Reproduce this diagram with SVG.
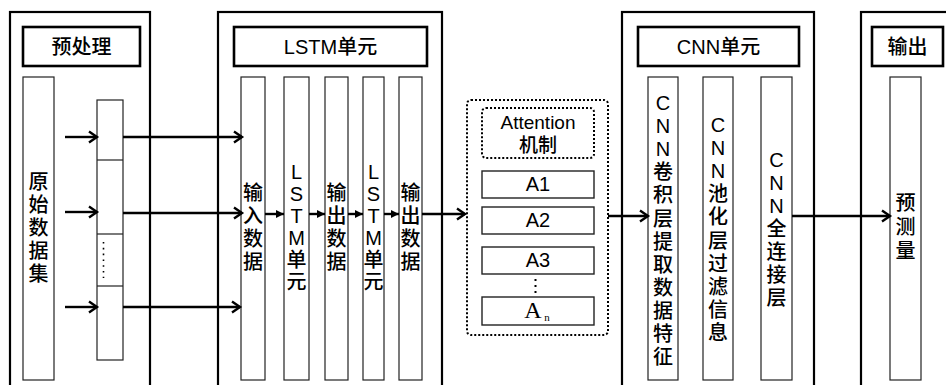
<svg xmlns="http://www.w3.org/2000/svg" width="946" height="385" viewBox="0 0 946 385">
<defs>
<style>
.outer{fill:none;stroke:#000;stroke-width:2.2}
.title{fill:#fff;stroke:#000;stroke-width:2.6}
.col{fill:#fff;stroke:#222;stroke-width:1.2}
.dotbox{fill:none;stroke:#000;stroke-width:2;stroke-dasharray:2,2}
.abox{fill:#fff;stroke:#222;stroke-width:1.4}
.t{font-family:"Liberation Sans","Noto Sans CJK SC",sans-serif;font-size:20px;font-weight:500;fill:#000;text-anchor:middle}
.tv{font-family:"Liberation Sans","Noto Sans CJK SC",sans-serif;font-size:20px;font-weight:500;fill:#000;text-anchor:middle}
.ln{stroke:#000;stroke-width:2.4;fill:none}
</style>
<marker id="chev" markerUnits="userSpaceOnUse" markerWidth="14" markerHeight="14" refX="11" refY="7" orient="auto">
<path d="M3,1.5 L11,7 L3,12.5" fill="none" stroke="#000" stroke-width="2.4"/>
</marker>
<marker id="tri" markerUnits="userSpaceOnUse" markerWidth="10" markerHeight="10" refX="9" refY="5" orient="auto">
<path d="M1,1 L9,5 L1,9 Z" fill="#000"/>
</marker>
</defs>

<g id="preprocess">
<rect class="outer" x="10" y="12" width="140" height="390"/>
<rect class="title" x="23" y="27" width="117" height="39"/>
<text class="t" x="81.5" y="54">预处理</text>
<rect class="col" x="23" y="77" width="31" height="303"/>
<text class="tv" x="38.5" y="189"><tspan x="38.5">原</tspan><tspan x="38.5" dy="23">始</tspan><tspan x="38.5" dy="23">数</tspan><tspan x="38.5" dy="23">据</tspan><tspan x="38.5" dy="23">集</tspan></text>
<rect class="col" x="97" y="100" width="26" height="260"/>
<line x1="97" y1="160" x2="123" y2="160" stroke="#222" stroke-width="1.2"/>
<line x1="97" y1="234" x2="123" y2="234" stroke="#222" stroke-width="1.2"/>
<line x1="97" y1="286" x2="123" y2="286" stroke="#222" stroke-width="1.2"/>
<line x1="103.5" y1="242" x2="103.5" y2="278" stroke="#000" stroke-width="1.6" stroke-dasharray="1.6,4.2"/>
</g>

<g id="lstm">
<rect class="outer" x="218" y="12" width="224" height="390"/>
<rect class="title" x="234" y="27" width="193" height="39"/>
<text class="t" x="330.5" y="54">LSTM单元</text>
<rect class="col" x="241" y="77" width="24" height="303"/>
<text class="tv" x="253" y="200"><tspan x="253">输</tspan><tspan x="253" dy="23">入</tspan><tspan x="253" dy="23">数</tspan><tspan x="253" dy="23">据</tspan></text>
<rect class="col" x="284" y="77" width="25" height="303"/>
<text class="tv" x="296.5" y="179"><tspan x="296.5">L</tspan><tspan x="296.5" dy="22">S</tspan><tspan x="296.5" dy="22">T</tspan><tspan x="296.5" dy="22">M</tspan><tspan x="296.5" dy="22">单</tspan><tspan x="296.5" dy="22">元</tspan></text>
<rect class="col" x="325" y="77" width="23" height="303"/>
<text class="tv" x="336.5" y="200"><tspan x="336.5">输</tspan><tspan x="336.5" dy="23">出</tspan><tspan x="336.5" dy="23">数</tspan><tspan x="336.5" dy="23">据</tspan></text>
<rect class="col" x="363" y="77" width="21" height="303"/>
<text class="tv" x="373.5" y="179"><tspan x="373.5">L</tspan><tspan x="373.5" dy="22">S</tspan><tspan x="373.5" dy="22">T</tspan><tspan x="373.5" dy="22">M</tspan><tspan x="373.5" dy="22">单</tspan><tspan x="373.5" dy="22">元</tspan></text>
<rect class="col" x="399" y="77" width="23" height="303"/>
<text class="tv" x="410.5" y="200"><tspan x="410.5">输</tspan><tspan x="410.5" dy="23">出</tspan><tspan x="410.5" dy="23">数</tspan><tspan x="410.5" dy="23">据</tspan></text>
</g>

<g id="attention">
<rect class="dotbox" x="467" y="100" width="141" height="235" rx="4"/>
<rect class="dotbox" x="482" y="108" width="112" height="50" rx="4"/>
<text class="t" x="538" y="129" style="font-size:19px">Attention</text>
<text class="t" x="538" y="152" style="font-size:19px">机制</text>
<rect class="abox" x="482" y="171" width="112" height="27"/>
<text class="t" x="538" y="191">A1</text>
<rect class="abox" x="482" y="207" width="112" height="27"/>
<text class="t" x="538" y="227">A2</text>
<rect class="abox" x="482" y="247" width="112" height="27"/>
<text class="t" x="538" y="267">A3</text>
<line x1="535.5" y1="279" x2="535.5" y2="295" stroke="#000" stroke-width="2" stroke-dasharray="2,4"/>
<rect class="abox" x="482" y="297" width="112" height="28"/>
<text x="533" y="318" style="font-family:'Liberation Serif',serif;font-size:24px;fill:#000;text-anchor:middle">A</text>
<text x="547" y="321" style="font-family:'Liberation Serif',serif;font-size:11px;fill:#000;text-anchor:middle">n</text>
</g>

<g id="cnn">
<rect class="outer" x="622" y="12" width="192" height="390"/>
<rect class="title" x="638" y="27" width="161" height="39"/>
<text class="t" x="718.5" y="54">CNN单元</text>
<rect class="col" x="648" y="77" width="30" height="303"/>
<text class="tv" x="663" y="110"><tspan x="663">C</tspan><tspan x="663" dy="23.1">N</tspan><tspan x="663" dy="23.1">N</tspan><tspan x="663" dy="23.1">卷</tspan><tspan x="663" dy="23.1">积</tspan><tspan x="663" dy="23.1">层</tspan><tspan x="663" dy="23.1">提</tspan><tspan x="663" dy="23.1">取</tspan><tspan x="663" dy="23.1">数</tspan><tspan x="663" dy="23.1">据</tspan><tspan x="663" dy="23.1">特</tspan><tspan x="663" dy="23.1">征</tspan></text>
<rect class="col" x="703" y="77" width="30" height="303"/>
<text class="tv" x="718" y="132"><tspan x="718">C</tspan><tspan x="718" dy="23.1">N</tspan><tspan x="718" dy="23.1">N</tspan><tspan x="718" dy="23.1">池</tspan><tspan x="718" dy="23.1">化</tspan><tspan x="718" dy="23.1">层</tspan><tspan x="718" dy="23.1">过</tspan><tspan x="718" dy="23.1">滤</tspan><tspan x="718" dy="23.1">信</tspan><tspan x="718" dy="23.1">息</tspan></text>
<rect class="col" x="761" y="77" width="31" height="303"/>
<text class="tv" x="776.5" y="167"><tspan x="776.5">C</tspan><tspan x="776.5" dy="23">N</tspan><tspan x="776.5" dy="23">N</tspan><tspan x="776.5" dy="23">全</tspan><tspan x="776.5" dy="23">连</tspan><tspan x="776.5" dy="23">接</tspan><tspan x="776.5" dy="23">层</tspan></text>
</g>

<g id="output">
<rect class="outer" x="861" y="12" width="120" height="390"/>
<rect class="title" x="872" y="27" width="71" height="39"/>
<text class="t" x="907.5" y="54">输出</text>
<rect class="col" x="890" y="77" width="31" height="303"/>
<text class="tv" x="905.5" y="210"><tspan x="905.5">预</tspan><tspan x="905.5" dy="24">测</tspan><tspan x="905.5" dy="24">量</tspan></text>
</g>

<g id="connectors">
<line class="ln" x1="65" y1="137" x2="97" y2="137" marker-end="url(#chev)"/>
<line class="ln" x1="65" y1="212" x2="97" y2="212" marker-end="url(#chev)"/>
<line class="ln" x1="65" y1="307" x2="97" y2="307" marker-end="url(#chev)"/>
<line class="ln" x1="123" y1="137" x2="242" y2="137" marker-end="url(#chev)"/>
<line class="ln" x1="123" y1="213" x2="242" y2="213" marker-end="url(#chev)"/>
<line class="ln" x1="123" y1="307" x2="240" y2="307" marker-end="url(#chev)"/>
<line class="ln" x1="265" y1="214" x2="284" y2="214" marker-end="url(#tri)"/>
<line class="ln" x1="309" y1="214" x2="325" y2="214" marker-end="url(#tri)"/>
<line class="ln" x1="348" y1="214" x2="363" y2="214" marker-end="url(#tri)"/>
<line class="ln" x1="384" y1="214" x2="399" y2="214" marker-end="url(#tri)"/>
<line class="ln" x1="422" y1="214" x2="465" y2="214" marker-end="url(#chev)"/>
<line class="ln" x1="608" y1="216" x2="648" y2="216" marker-end="url(#chev)"/>
<line class="ln" x1="792" y1="216" x2="890" y2="216" marker-end="url(#chev)"/>
</g>
</svg>
